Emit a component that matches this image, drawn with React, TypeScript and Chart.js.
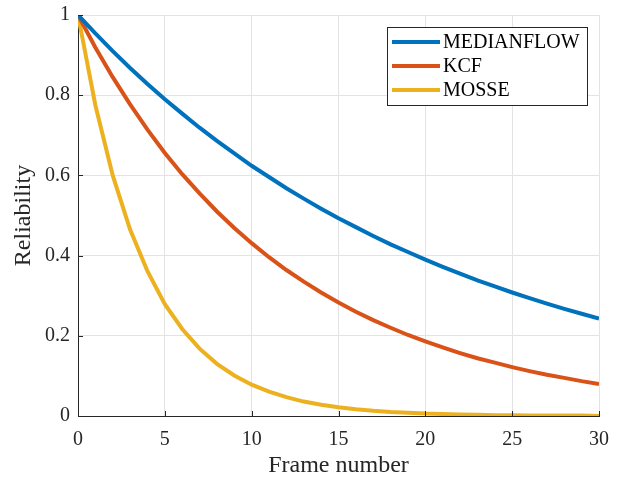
import React, { useEffect, useRef } from "react";
import { Chart, registerables } from "chart.js";

Chart.register(...registerables);

const frames = [0,1,2,3,4,5,6,7,8,9,10,11,12,13,14,15,16,17,18,19,20,21,22,23,24,25,26,27,28,29,30];
const medianflow = [1,0.954,0.910,0.868,0.828,0.790,0.754,0.719,0.686,0.655,0.624,0.596,0.568,0.542,0.517,0.493,0.471,0.449,0.428,0.409,0.390,0.372,0.355,0.338,0.323,0.308,0.294,0.280,0.267,0.255,0.243];
const kcf = [1,0.919,0.845,0.777,0.714,0.656,0.603,0.555,0.510,0.469,0.431,0.396,0.364,0.335,0.308,0.283,0.260,0.239,0.220,0.202,0.186,0.171,0.157,0.144,0.133,0.122,0.112,0.103,0.095,0.087,0.080];
const mosse = [1,0.775,0.600,0.465,0.361,0.279,0.217,0.168,0.130,0.101,0.078,0.061,0.047,0.036,0.028,0.022,0.017,0.013,0.010,0.008,0.006,0.005,0.004,0.003,0.002,0.002,0.001,0.001,0.001,0.001,0.000];
const seriesNames = ["MEDIANFLOW", "KCF", "MOSSE"];
const seriesColors = ["#0072BD", "#D95319", "#EDB120"];
const xTicks = [0, 5, 10, 15, 20, 25, 30];
const yTicks = [0, 0.2, 0.4, 0.6, 0.8, 1];

const FONT = "'Liberation Serif', 'Times New Roman', serif";

const inwardTicks = {
  id: "inwardTicks",
  afterDatasetsDraw(chart: any) {
    const { ctx, chartArea, scales } = chart;
    ctx.save();
    ctx.strokeStyle = "#262626";
    ctx.lineWidth = 1;
    ctx.beginPath();
    for (const v of xTicks) {
      const px = Math.round(scales.x.getPixelForValue(v)) + 0.5;
      ctx.moveTo(px, chartArea.bottom);
      ctx.lineTo(px, chartArea.bottom - 5);
    }
    for (const v of yTicks) {
      const py = Math.round(scales.y.getPixelForValue(v)) + 0.5;
      ctx.moveTo(chartArea.left, py);
      ctx.lineTo(chartArea.left + 5, py);
    }
    ctx.stroke();
    ctx.restore();
  },
};

const boxLegend = {
  id: "boxLegend",
  afterDraw(chart: any) {
    const { ctx } = chart;
    const x0 = 387.5, y0 = 27.5, w = 200, h = 78;
    ctx.save();
    ctx.fillStyle = "#ffffff";
    ctx.fillRect(x0, y0, w, h);
    ctx.strokeStyle = "#262626";
    ctx.lineWidth = 1;
    ctx.strokeRect(x0, y0, w, h);
    chart.data.datasets.forEach((ds: any, i: number) => {
      const cy = 42 + i * 24;
      ctx.strokeStyle = ds.borderColor;
      ctx.lineWidth = 4;
      ctx.beginPath();
      ctx.moveTo(392, cy);
      ctx.lineTo(440, cy);
      ctx.stroke();
      ctx.fillStyle = "#000000";
      ctx.font = `20px ${FONT}`;
      ctx.textBaseline = "middle";
      ctx.textAlign = "left";
      ctx.fillText(ds.label, 443, cy + 1);
    });
    ctx.restore();
  },
};

export default function App() {
  const ref = useRef<HTMLCanvasElement>(null);
  useEffect(() => {
    if (!ref.current) return;
    const seriesData = [medianflow, kcf, mosse];
    const chart = new Chart(ref.current, {
      type: "line",
      data: {
        datasets: seriesData.map((vals, i) => ({
          label: seriesNames[i],
          data: frames.map((f, j) => ({ x: f, y: vals[j] })),
          borderColor: seriesColors[i],
          backgroundColor: seriesColors[i],
          borderWidth: 4,
          pointRadius: 0,
          tension: 0,
          fill: false,
        })),
      },
      options: {
        animation: false,
        responsive: false,
        maintainAspectRatio: false,
        layout: { padding: { top: 15, right: 18, left: 0, bottom: 0 } },
        plugins: { legend: { display: false }, tooltip: { enabled: false } },
        scales: {
          x: {
            type: "linear",
            min: 0,
            max: 30,
            afterBuildTicks: (s: any) => { s.ticks = xTicks.map((v) => ({ value: v })); },
            afterFit: (s: any) => { s.height = 64; s.paddingLeft = 0; s.paddingRight = 0; },
            grid: { color: "#e3e3e3", drawTicks: false, lineWidth: 1 },
            border: { color: "#262626", width: 1 },
            ticks: { color: "#262626", font: { family: FONT, size: 20 }, padding: 12, maxRotation: 0 },
            title: { display: true, text: "Frame number", color: "#262626", font: { family: FONT, size: 24 }, padding: { top: 0, bottom: 0 } },
          },
          y: {
            type: "linear",
            min: 0,
            max: 1,
            afterBuildTicks: (s: any) => { s.ticks = yTicks.map((v) => ({ value: v })); },
            afterFit: (s: any) => { s.width = 78; s.paddingTop = 0; s.paddingBottom = 0; },
            grid: { color: "#e3e3e3", drawTicks: false, lineWidth: 1 },
            border: { color: "#262626", width: 1 },
            ticks: { color: "#262626", font: { family: FONT, size: 20 }, padding: 8, callback: (v: any) => String(Number(v)) },
            title: { display: true, text: "Reliability", color: "#262626", font: { family: FONT, size: 24 }, padding: { top: 9, bottom: 0 } },
          },
        },
      },
      plugins: [inwardTicks, boxLegend],
    } as any);
    return () => chart.destroy();
  }, []);
  return (
    <div style={{ position: "fixed", left: 0, top: 0, width: 617, height: 480, background: "#fff" }}>
      <canvas ref={ref} width={617} height={480} style={{ width: 617, height: 480 }} />
    </div>
  );
}
